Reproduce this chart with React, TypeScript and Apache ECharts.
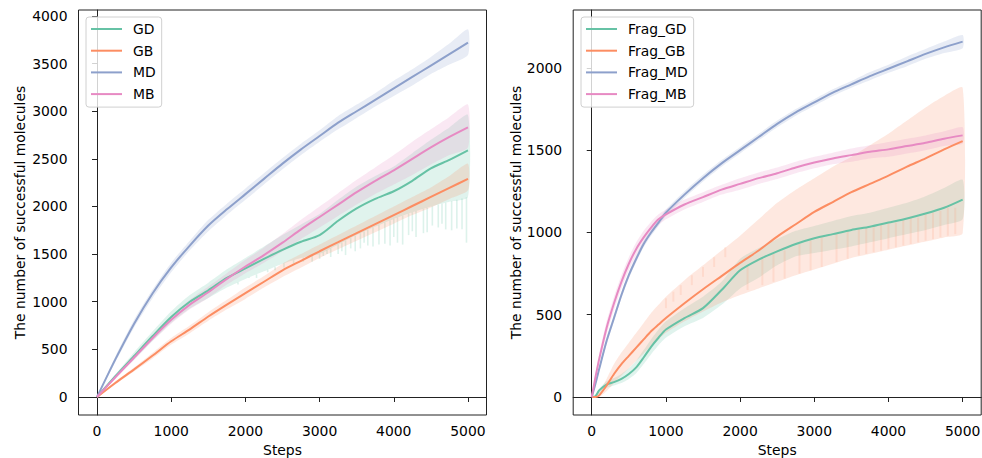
import React, { useEffect, useRef } from "react";
import * as echarts from "echarts";

// ---------- data ----------
const stepsL = [0, 250, 500, 750, 1000, 1250, 1500, 1750, 2000, 2250, 2500, 2750, 3000, 3250, 3500, 3750, 4000, 4250, 4500, 4750, 5000];

const gdL = [0, 220, 430, 640, 840, 1000, 1120, 1250, 1350, 1450, 1545, 1630, 1700, 1850, 1980, 2080, 2160, 2270, 2400, 2490, 2590];
const gdLLo = [0, 200, 390, 590, 780, 930, 1040, 1150, 1240, 1320, 1400, 1460, 1500, 1600, 1700, 1790, 1870, 1940, 2000, 2050, 2100];
const gdLHi = [0, 240, 470, 690, 900, 1070, 1200, 1340, 1460, 1580, 1700, 1810, 1920, 2070, 2210, 2320, 2420, 2560, 2700, 2830, 2960];
const gbL = [0, 150, 290, 435, 585, 710, 845, 970, 1090, 1210, 1330, 1430, 1530, 1625, 1720, 1815, 1910, 2005, 2100, 2195, 2290];
const gbLLo = [0, 135, 270, 405, 550, 670, 800, 920, 1030, 1150, 1260, 1360, 1460, 1550, 1640, 1730, 1820, 1910, 1990, 2080, 2170];
const gbLHi = [0, 165, 310, 465, 620, 750, 890, 1020, 1150, 1270, 1400, 1500, 1600, 1700, 1800, 1900, 2000, 2100, 2200, 2320, 2450];
const mdL = [0, 400, 770, 1090, 1360, 1590, 1800, 1970, 2130, 2290, 2450, 2600, 2740, 2880, 3000, 3120, 3240, 3360, 3480, 3600, 3720];
const mdLLo = [0, 370, 730, 1040, 1310, 1540, 1740, 1910, 2070, 2230, 2390, 2540, 2680, 2810, 2930, 3050, 3160, 3270, 3390, 3490, 3590];
const mdLHi = [0, 430, 810, 1130, 1410, 1640, 1860, 2030, 2190, 2350, 2510, 2660, 2800, 2950, 3070, 3190, 3320, 3440, 3570, 3710, 3860];
const mbL = [0, 210, 415, 620, 810, 970, 1100, 1240, 1370, 1490, 1620, 1760, 1890, 2020, 2150, 2270, 2380, 2500, 2620, 2730, 2830];
const mbLLo = [0, 195, 390, 590, 770, 920, 1040, 1180, 1300, 1410, 1530, 1660, 1780, 1900, 2020, 2130, 2230, 2330, 2440, 2540, 2620];
const mbLHi = [0, 225, 440, 650, 850, 1020, 1160, 1300, 1440, 1570, 1710, 1860, 2000, 2140, 2280, 2410, 2540, 2680, 2810, 2940, 3070];

// downward spikes of the GD band (left panel): step, lowest value
const gdSpikeSteps = [1900, 2050, 2150, 2300, 2400, 2520, 2650, 2780, 2900, 3000, 3050, 3100, 3150, 3250, 3300, 3350, 3420, 3480, 3550, 3600, 3650, 3720, 3800, 3880, 3950, 4000, 4050, 4120, 4200, 4250, 4300, 4400, 4450, 4520, 4600, 4650, 4700, 4780, 4850, 4920, 4980];
const gdSpikeLows = [1180, 1250, 1250, 1310, 1330, 1360, 1400, 1420, 1420, 1450, 1480, 1500, 1470, 1500, 1530, 1490, 1560, 1530, 1560, 1620, 1590, 1580, 1600, 1610, 1590, 1680, 1620, 1600, 1700, 1740, 1680, 1720, 1730, 1800, 1780, 1820, 1760, 1750, 1770, 1760, 1620];

const stepsR = [0, 50, 100, 200, 300, 400, 500, 600, 700, 800, 900, 1000, 1250, 1500, 1750, 2000, 2250, 2500, 2750, 3000, 3250, 3500, 3750, 4000, 4250, 4500, 4750, 5000];

const gdR = [0, 5, 40, 75, 90, 110, 140, 180, 240, 305, 360, 410, 480, 540, 650, 770, 835, 885, 930, 965, 990, 1015, 1035, 1060, 1085, 1115, 1150, 1200];
const gdRLo = [0, 0, 25, 55, 70, 85, 110, 145, 200, 260, 315, 360, 430, 480, 560, 660, 725, 800, 855, 875, 895, 915, 940, 965, 990, 1015, 1045, 1080];
const gdRHi = [0, 10, 50, 95, 115, 140, 175, 220, 285, 350, 410, 460, 540, 610, 700, 840, 905, 960, 1010, 1040, 1070, 1100, 1120, 1150, 1180, 1220, 1270, 1320];
const gbR = [0, 0, 10, 70, 140, 200, 250, 300, 350, 400, 440, 480, 570, 655, 735, 815, 890, 975, 1050, 1125, 1185, 1245, 1295, 1345, 1400, 1450, 1505, 1555];
const gbRLo = [0, 0, 0, 35, 85, 130, 175, 220, 265, 310, 350, 390, 460, 520, 575, 620, 660, 700, 740, 775, 810, 845, 870, 895, 920, 945, 970, 995];
const gbRHi = [0, 5, 30, 110, 200, 270, 330, 390, 450, 510, 560, 610, 710, 800, 890, 980, 1080, 1180, 1260, 1330, 1400, 1460, 1530, 1600, 1680, 1760, 1830, 1880];
const mdR = [0, 80, 170, 340, 480, 620, 740, 840, 930, 1000, 1060, 1120, 1230, 1330, 1420, 1500, 1580, 1660, 1730, 1790, 1850, 1900, 1950, 1995, 2040, 2085, 2125, 2160];
const mdRLo = [0, 70, 155, 320, 460, 600, 720, 820, 910, 980, 1040, 1100, 1210, 1310, 1400, 1480, 1560, 1640, 1710, 1770, 1830, 1880, 1925, 1970, 2010, 2055, 2090, 2120];
const mdRHi = [0, 90, 185, 360, 500, 640, 760, 860, 950, 1020, 1080, 1140, 1250, 1350, 1440, 1520, 1600, 1680, 1750, 1810, 1870, 1920, 1975, 2020, 2070, 2115, 2160, 2200];
const mbR = [0, 120, 230, 420, 570, 700, 810, 900, 970, 1030, 1080, 1110, 1170, 1215, 1260, 1295, 1330, 1360, 1395, 1425, 1450, 1470, 1490, 1505, 1525, 1545, 1570, 1590];
const mbRLo = [0, 100, 200, 380, 530, 660, 770, 860, 930, 995, 1045, 1080, 1140, 1185, 1230, 1260, 1295, 1325, 1360, 1390, 1415, 1430, 1450, 1460, 1480, 1500, 1525, 1540];
const mbRHi = [0, 140, 260, 460, 610, 740, 850, 940, 1010, 1065, 1110, 1140, 1200, 1245, 1290, 1330, 1365, 1395, 1430, 1460, 1485, 1510, 1530, 1550, 1570, 1590, 1615, 1640];

// vertical stripes inside the Frag_GB band (right panel): step, low, high
const gbStripeSteps = [1000, 1100, 1200, 1350, 1500, 1650, 1800, 2100, 2300, 2450, 2600, 2800, 2950, 3100, 3300, 3450, 3600, 3700, 3800, 3900, 4000, 4100, 4200, 4300, 4400, 4500, 4600, 4700, 4800, 4900];
const gbStripeLows = [540, 580, 620, 680, 730, 790, 850, 650, 680, 700, 720, 750, 770, 790, 820, 840, 860, 870, 880, 890, 900, 910, 920, 930, 940, 950, 960, 970, 980, 990];
const gbStripeHighs = [600, 640, 680, 740, 790, 850, 910, 800, 840, 870, 890, 930, 950, 970, 990, 1010, 1020, 1030, 1040, 1050, 1060, 1060, 1080, 1090, 1090, 1110, 1120, 1130, 1150, 1150];

const namesL = ["GD", "GB", "MD", "MB"];
const namesR = ["Frag_GD", "Frag_GB", "Frag_MD", "Frag_MB"];
const xTicks = [0, 1000, 2000, 3000, 4000, 5000];
const yTicksL = [0, 500, 1000, 1500, 2000, 2500, 3000, 3500, 4000];
const yTicksR = [0, 500, 1000, 1500, 2000];

const colors = ["#66c2a5", "#fc8d62", "#8da0cb", "#e78ac3"];
const FONT = "DejaVu Sans";
const FS = 13.9;

function rgba(hex: string, a: number) {
  const n = parseInt(hex.slice(1), 16);
  return `rgba(${(n >> 16) & 255},${(n >> 8) & 255},${n & 255},${a})`;
}

function bandSeries(g: number, steps: number[], lo: number[], hi: number[], color: string) {
  return {
    type: "custom",
    xAxisIndex: g,
    yAxisIndex: g,
    silent: true,
    data: [[steps[0], lo[0]]],
    renderItem: (_p: any, api: any) => {
      const pts: number[][] = [];
      for (let i = 0; i < steps.length; i++) pts.push(api.coord([steps[i], hi[i]]));
      for (let i = steps.length - 1; i >= 0; i--) pts.push(api.coord([steps[i], lo[i]]));
      return { type: "polygon", shape: { points: pts, smooth: 0.2 }, style: { fill: rgba(color, 0.2), stroke: "none" } };
    },
  };
}

function lineSeries(g: number, name: string, steps: number[], vals: number[], color: string) {
  return {
    type: "line",
    name,
    xAxisIndex: g,
    yAxisIndex: g,
    data: steps.map((s, i) => [s, vals[i]]),
    symbol: "none",
    showSymbol: false,
    smooth: 0.25,
    lineStyle: { color, width: 2 },
    itemStyle: { color },
  };
}

function interp(steps: number[], vals: number[], s: number) {
  for (let i = 1; i < steps.length; i++) {
    if (s <= steps[i]) {
      const t = (s - steps[i - 1]) / (steps[i] - steps[i - 1]);
      return vals[i - 1] + t * (vals[i] - vals[i - 1]);
    }
  }
  return vals[vals.length - 1];
}

function stripeSeries(g: number, data: number[][], color: string, alpha: number, width: number) {
  return {
    type: "custom",
    xAxisIndex: g,
    yAxisIndex: g,
    silent: true,
    data,
    renderItem: (_p: any, api: any) => {
      const a = api.coord([api.value(0), api.value(1)]);
      const b = api.coord([api.value(0), api.value(2)]);
      return { type: "line", shape: { x1: a[0], y1: a[1], x2: b[0], y2: b[1] }, style: { stroke: rgba(color, alpha), lineWidth: width } };
    },
  };
}

const fmt = (v: number) => String(v);

function xAxis(g: number) {
  return {
    type: "value",
    gridIndex: g,
    min: -250,
    max: 5250,
    name: "Steps",
    nameLocation: "middle",
    nameGap: 28,
    nameTextStyle: { fontFamily: FONT, fontSize: FS, color: "#000" },
    axisLine: { show: true, lineStyle: { color: "#222", width: 1 } },
    axisTick: { show: true, customValues: xTicks, length: 5, lineStyle: { color: "#222", width: 1 } },
    axisLabel: { customValues: xTicks, formatter: fmt, margin: 9, fontFamily: FONT, fontSize: FS, color: "#000" },
    splitLine: { show: false },
  };
}

function yAxis(g: number, min: number, max: number, ticks: number[], gap: number) {
  return {
    type: "value",
    gridIndex: g,
    min,
    max,
    name: "The number of successful molecules",
    nameLocation: "middle",
    nameGap: gap,
    nameTextStyle: { fontFamily: FONT, fontSize: FS, color: "#000" },
    axisLine: { show: true, lineStyle: { color: "#222", width: 1 } },
    axisTick: { show: true, customValues: ticks, length: 5, lineStyle: { color: "#222", width: 1 } },
    axisLabel: { customValues: ticks, formatter: fmt, margin: 11, fontFamily: FONT, fontSize: FS, color: "#000" },
    splitLine: { show: false },
  };
}

function legend(left: number, data: string[]) {
  return {
    left,
    top: 17,
    orient: "vertical",
    data,
    icon: "rect",
    itemWidth: 31,
    itemHeight: 2,
    itemGap: 5.7,
    padding: [4, 6, 5, 5],
    borderColor: "#d0d0d0",
    borderWidth: 1,
    borderRadius: 3,
    backgroundColor: "rgba(255,255,255,0.8)",
    textStyle: { fontFamily: FONT, fontSize: FS, color: "#000", lineHeight: 16, padding: [0, 0, 0, 6] },
    selectedMode: false,
  };
}

export default function App() {
  const ref = useRef<HTMLDivElement>(null);
  useEffect(() => {
    if (!ref.current) return;
    const chart = echarts.init(ref.current, null, { renderer: "svg" });
    const left = [
      [gdL, gdLLo, gdLHi],
      [gbL, gbLLo, gbLHi],
      [mdL, mdLLo, mdLHi],
      [mbL, mbLLo, mbLHi],
    ];
    const right = [
      [gdR, gdRLo, gdRHi],
      [gbR, gbRLo, gbRHi],
      [mdR, mdRLo, mdRHi],
      [mbR, mbRLo, mbRHi],
    ];
    const gdSpikes = gdSpikeSteps.map((s, i) => [s, gdSpikeLows[i], interp(stepsL, gdLLo, s)]);
    const gbStripes = gbStripeSteps.map((s, i) => [s, gbStripeLows[i], gbStripeHighs[i]]);
    const series: any[] = [];
    left.forEach((d, i) => {
      series.push(bandSeries(0, stepsL, d[1], d[2], colors[i]));
      if (i === 0) series.push(stripeSeries(0, gdSpikes, colors[0], 0.22, 1.6));
      series.push(lineSeries(0, namesL[i], stepsL, d[0], colors[i]));
    });
    right.forEach((d, i) => {
      series.push(bandSeries(1, stepsR, d[1], d[2], colors[i]));
      if (i === 1) series.push(stripeSeries(1, gbStripes, colors[1], 0.15, 2));
      series.push(lineSeries(1, namesR[i], stepsR, d[0], colors[i]));
    });
    chart.setOption({
      animation: false,
      backgroundColor: "#fff",
      grid: [
        { left: 78.5, top: 10, width: 408, height: 405, outerBoundsMode: "none", containLabel: false, show: true, borderColor: "#222", borderWidth: 1, backgroundColor: "transparent" },
        { left: 573.2, top: 10, width: 408, height: 405, outerBoundsMode: "none", containLabel: false, show: true, borderColor: "#222", borderWidth: 1, backgroundColor: "transparent" },
      ],
      xAxis: [xAxis(0), xAxis(1)],
      yAxis: [yAxis(0, -189, 4063, yTicksL, 52), yAxis(1, -109.4, 2352, yTicksR, 50)],
      legend: [legend(86, namesL), legend(581, namesR)],
      series,
    });
    return () => chart.dispose();
  }, []);
  return <div ref={ref} style={{ position: "fixed", left: 0, top: 0, width: 982, height: 458 }} />;
}
